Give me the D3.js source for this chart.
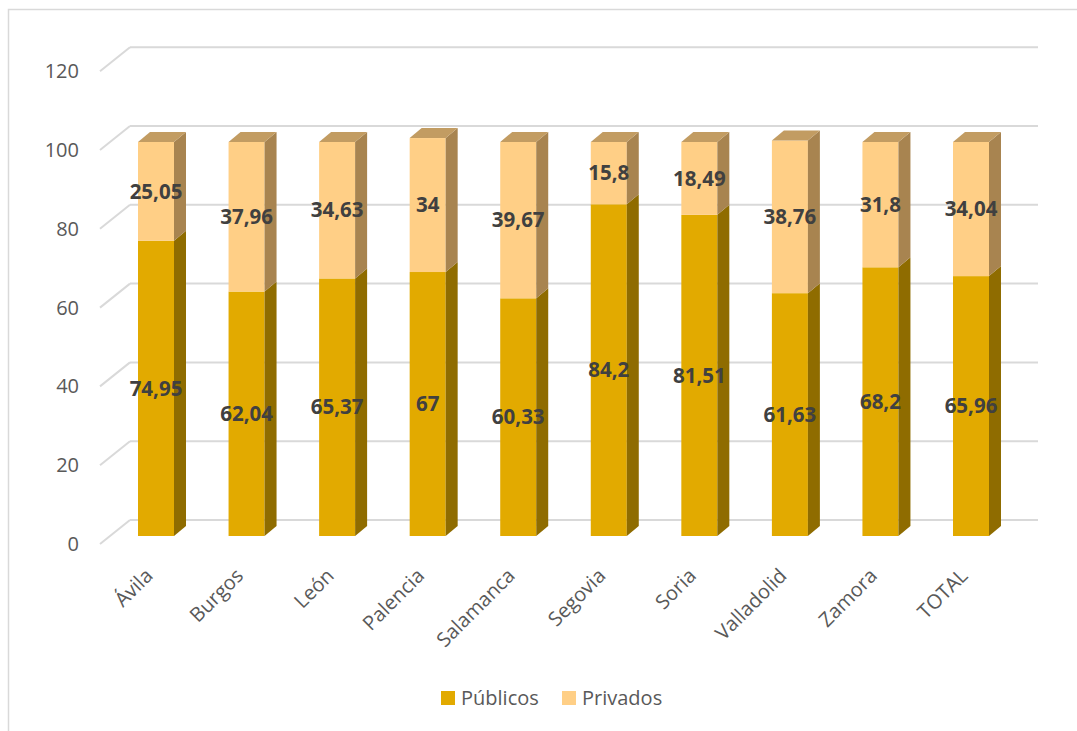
<!DOCTYPE html>
<html><head><meta charset="utf-8">
<script src="https://cdn.jsdelivr.net/npm/d3@7"></script>
<style>body{margin:0;background:#fff}svg{display:block}</style>
</head><body>
<script>
const categories = ["Ávila","Burgos","León","Palencia","Salamanca","Segovia","Soria","Valladolid","Zamora","TOTAL"];
const publicos = [74.95,62.04,65.37,67,60.33,84.2,81.51,61.63,68.2,65.96];
const privados = [25.05,37.96,34.63,34,39.67,15.8,18.49,38.76,31.8,34.04];
const seriesNames = ["Públicos","Privados"];
const tickValues = [0,20,40,60,80,100,120];

const W=1077,H=731;
const svg=d3.select("body").append("svg").attr("width",W).attr("height",H);
svg.append("rect").attr("x",8.5).attr("y",9.5).attr("width",1100).attr("height",800)
  .attr("fill","#fff").attr("stroke","#d9d9d9").attr("stroke-width",1.5);

const font="'Open Sans', sans-serif";
const y=d3.scaleLinear().domain([0,120]).range([536,536-120*3.94]);
const x=d3.scalePoint().domain(categories).range([156,971]);
const bw=36, ddx=12, ddy=-10;
const wallDx=30, wallDy=-24, frontOff=8;

const g=svg.append("g");
tickValues.forEach(t=>{
  const yb=y(t)+frontOff+wallDy;
  g.append("line").attr("x1",100+wallDx).attr("x2",1038).attr("y1",yb).attr("y2",yb)
    .attr("stroke","#d9d9d9").attr("stroke-width",2);
  g.append("line").attr("x1",100).attr("y1",y(t)+frontOff).attr("x2",100+wallDx).attr("y2",yb)
    .attr("stroke","#d9d9d9").attr("stroke-width",2);
  g.append("text").attr("x",79).attr("y",y(t)+frontOff).attr("dy","0.35em")
    .attr("text-anchor","end").attr("font-family",font).attr("font-size",20)
    .attr("fill","#595959").text(t);
});

const colors={front:["#E2AA00","#FFCF86"],side:["#8F6C00","#A88450"],top:["#B08A2A","#C29C62"]};
const bars=svg.append("g");
categories.forEach((c,i)=>{
  const x0=x(c)-bw/2;
  const segs=[[0,publicos[i]],[publicos[i],publicos[i]+privados[i]]];
  segs.forEach((s,k)=>{
    const yt=y(s[1]), yb=y(s[0]);
    bars.append("rect").attr("x",x0).attr("y",yt).attr("width",bw).attr("height",yb-yt).attr("fill",colors.front[k]);
    bars.append("path").attr("d",`M${x0+bw},${yb}L${x0+bw+ddx},${yb+ddy}L${x0+bw+ddx},${yt+ddy}L${x0+bw},${yt}Z`).attr("fill",colors.side[k]);
    if(k===1){
      bars.append("path").attr("d",`M${x0},${yt}L${x0+ddx},${yt+ddy}L${x0+bw+ddx},${yt+ddy}L${x0+bw},${yt}Z`).attr("fill",colors.top[k]);
    }
  });
  segs.forEach((s,k)=>{
    const v=k===0?publicos[i]:privados[i];
    bars.append("text").attr("x",x(c)).attr("y",(y(s[0])+y(s[1]))/2).attr("dy","0.35em")
      .attr("text-anchor","middle").attr("font-family",font).attr("font-weight","bold")
      .attr("font-size",20.5).attr("fill","#404040").text(String(v).replace(".",","));
  });
  svg.append("text").attr("transform",`translate(${x(c)-2},${577}) rotate(-45)`)
    .attr("text-anchor","end").attr("font-family",font).attr("font-size",20)
    .attr("fill","#595959").text(c);
});

const leg=svg.append("g");
[[441,461],[562,582]].forEach((p,k)=>{
  leg.append("rect").attr("x",p[0]).attr("y",691).attr("width",14).attr("height",14).attr("fill",colors.front[k]);
  leg.append("text").attr("x",p[1]).attr("y",698).attr("dy","0.35em").attr("font-family",font)
    .attr("font-size",20).attr("fill","#595959").text(seriesNames[k]);
});
</script>
</body></html>
